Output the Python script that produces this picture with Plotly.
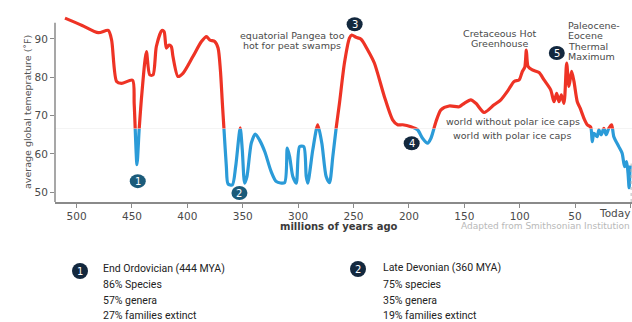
import plotly.graph_objects as go

# ---------------- data ----------------
mya = [510.5, 495, 480.4, 471.4, 468.4, 463.9, 459.4, 449.5, 448, 445.5, 443.5, 441, 437,
       434, 431, 428, 423, 421, 419, 416.5, 414.5, 413, 408.5, 404, 395, 387.3, 382.8,
       379.8, 375.3, 372.3, 370.2, 368.4, 367, 364.8, 363.3, 359.4, 356.4, 352.3, 350.4,
       348.3, 346.2, 342.3, 338.7, 334.8, 330, 324.5, 319.7, 312.3, 309.8, 307.7, 304.8,
       301.7, 298.7, 294.9, 292.7, 291.3, 286.8, 282.3, 278.6, 274.7, 271.7, 268.7, 265.7,
       262.7, 258.2, 253.7, 251.6, 247.7, 243.2, 237.2, 231.2, 222.2, 214.7, 210.2, 205.7,
       198.1, 192.2, 187.7, 183.2, 180.1, 175.6, 171.1, 163.6, 154.6, 150.1, 144.1, 139.5,
       132.1, 123.1, 117, 111.1, 105, 100.5, 97.6, 95.4, 94, 92.4, 88.6, 82.5, 78, 72, 69,
       66.6, 64.5, 62.4, 60, 57.6, 55.5, 53.1, 51, 48, 45.5, 42, 39, 35.9, 34.5, 33, 30,
       28.5, 26.4, 24, 21.9, 19.5, 17, 15, 10.5, 7.5, 5.3, 3.5, 2.2, 1.2, 0.3]
temp = [95.4, 93.5, 91.6, 92.2, 89.7, 78.9, 78.4, 79.2, 73.0, 57.2, 66.5, 76.0, 86.7,
        80.6, 80.6, 88.0, 92.2, 91.9, 87.6, 88.4, 88.0, 85.4, 80.2, 81.0, 85.4, 89.3, 90.6,
        89.7, 89.3, 87.6, 81.9, 73.2, 66.7, 56.7, 52.2, 51.9, 56.7, 66.8, 61.0,
        52.4, 54.1, 62.8, 65.2, 63.6, 60.5, 55.5, 52.8, 52.5, 61.5, 59.3, 54.1,
        52.4, 61.9, 61.9, 54.1, 52.4, 61.0, 67.6, 62.8, 54.1, 52.5, 59.3, 66.7,
        73.2, 83.7, 90.2, 91.0, 90.4, 89.9, 87.1, 83.7, 75.0, 68.9, 67.6, 67.6,
        67.1, 66.3, 64.1, 62.8, 64.1, 68.4, 71.5, 72.5, 72.3, 73.2, 74.1, 73.2,
        70.8, 72.8, 74.1, 76.3, 78.9, 79.3, 81.5, 82.6, 87.1, 82.8, 81.9, 81.2, 79.3, 76.7, 73.6,
        75.8, 73.6, 75.4, 73.2, 83.7, 77.6, 81.5, 78.9, 73.6, 72.0, 69.3, 67.6, 67.0, 63.2, 65.4, 64.5,
        66.3, 65.0, 66.7, 65.0, 66.7, 67.6, 64.5, 61.9, 60.2, 56.7, 58.0, 55.0, 51.2, 57.0]

threshold = 66.6

x_tickvals = [500, 450, 400, 350, 300, 250, 200, 150, 100, 50, 0]
x_ticktext = ["500", "450", "400", "350", "300", "250", "200", "150", "100", "50", ""]
y_tickvals = [50, 60, 70, 80, 90]

event_labels = ["1", "2", "3", "4", "5"]
event_mya = [444.8, 353.0, 249.0, 197.5, 66.5]
event_temp = [52.9, 49.8, 93.8, 62.8, 86.3]

legend_numbers = ["1", "2"]
legend_1 = ["End Ordovician (444 MYA)", "86% Species", "57% genera", "27% families extinct"]
legend_2 = ["Late Devonian (360 MYA)", "75% species", "35% genera", "19% families extinct"]

# ---------------- layout constants ----------------
W_FIG, H_FIG = 632, 322
L, R, T, B = 55, 0, 12, 120
PW = W_FIG - L - R
PH = H_FIG - T - B
Y0, Y1 = 47.47, 97.0
X0, X1 = 519.5, -1.4
f = (threshold - Y0) / (Y1 - Y0)

RED = "#EE3325"
BLUE = "#2B9BD8"
TEAL = "#1B5B7A"
NAVY = "#13283E"
TXT = "#4a4a4a"
FONT = "DejaVu Sans"


def px(x):
    return (x - L) / PW


def py(y):
    return (T + PH - y) / PH


fig = go.Figure()

line_common = dict(x=mya, y=temp, mode="lines", line_shape="spline",
                   hoverinfo="skip", showlegend=False)
fig.add_trace(go.Scatter(**line_common, line=dict(color=BLUE, width=3.2, smoothing=0.7),
                         xaxis="x", yaxis="y2"))
fig.add_trace(go.Scatter(**line_common, line=dict(color=RED, width=3.2, smoothing=0.7),
                         xaxis="x", yaxis="y3"))
fig.add_trace(go.Scatter(x=[X0], y=[Y0], mode="markers", marker=dict(opacity=0),
                         hoverinfo="skip", showlegend=False))

shapes = []
annotations = []

# threshold line
shapes.append(dict(type="line", xref="paper", x0=0, x1=1, yref="y", y0=threshold, y1=threshold,
                   line=dict(color="#c8c8c8", width=1), layer="below"))
# y axis line
shapes.append(dict(type="line", xref="paper", x0=0, x1=0, yref="y", y0=Y0, y1=94.2,
                   line=dict(color="#8a8a8a", width=1.5)))
# dotted line at today
shapes.append(dict(type="line", xref="paper", x0=0.9985, x1=0.9985, yref="y", y0=Y0, y1=57.5,
                   line=dict(color="#bbbbbb", width=1, dash="dot")))

# event circles
for i, (lab, xm, yt) in enumerate(zip(event_labels, event_mya, event_temp)):
    col = TEAL if i < 2 else NAVY
    shapes.append(dict(type="circle", xref="x", yref="y", xsizemode="pixel", ysizemode="pixel",
                       xanchor=xm, yanchor=yt, x0=-8, x1=8, y0=-7, y1=7,
                       fillcolor=col, line=dict(width=0), layer="above"))
    annotations.append(dict(x=xm, y=yt, xref="x", yref="y", text=lab, showarrow=False,
                            font=dict(family=FONT, size=10, color="white"),
                            xanchor="center", yanchor="middle"))


def txt(text, x, y, xanchor="center", size=9.5, color=TXT, family=FONT, weight=None, angle=0):
    fnt = dict(family=family, size=size, color=color)
    if weight:
        fnt["weight"] = weight
    annotations.append(dict(x=px(x), y=py(y), xref="paper", yref="paper", text=text,
                            showarrow=False, xanchor=xanchor, yanchor="middle", font=fnt,
                            textangle=angle))


txt("equatorial Pangea too", 292, 35)
txt("hot for peat swamps", 292, 45.5)
txt("Cretaceous Hot", 500, 33)
txt("Greenhouse", 500, 43.5)
for s, yy in zip(["Paleocene-", "Eocene", "Thermal", "Maximum"], [25.5, 36, 46, 56]):
    txt(s, 566, yy, xanchor="left")
txt("world without polar ice caps", 513, 121.5)
txt("world with polar ice caps", 512, 135.5)

txt("average global temeprature (˚F)", 27, 112, size=9.5, angle=-90, color="#555555")
txt("millions of years ago", 339, 226, size=10, color="#3a3a3a", weight=600)
txt("Adapted from Smithsonian Institution", 632, 226, xanchor="right", size=9, color="#b8b8b8")
txt("Today", 632, 213, xanchor="right", size=10.5, color="#4a4a4a")

# bottom legend
for num, cx, cy, lines, tx, ys in [(legend_numbers[0], 80, 271, legend_1, 101, [268, 284, 300, 315]),
                                   (legend_numbers[1], 358, 269, legend_2, 381, [267, 284, 300, 315])]:
    shapes.append(dict(type="circle", xref="paper", yref="paper", xsizemode="pixel",
                       ysizemode="pixel", xanchor=px(cx), yanchor=py(cy), x0=-8, x1=8, y0=-8, y1=8,
                       fillcolor=NAVY, line=dict(width=0)))
    annotations.append(dict(x=px(cx), y=py(cy), xref="paper", yref="paper", text=num,
                            showarrow=False, xanchor="center", yanchor="middle",
                            font=dict(family=FONT, size=10, color="white")))
    for s, yy in zip(lines, ys):
        txt(s, tx, yy, xanchor="left", size=10.5, color="#222222", family="Roboto")

fig.update_layout(
    width=W_FIG, height=H_FIG,
    margin=dict(l=L, r=R, t=T, b=B, pad=0),
    paper_bgcolor="white", plot_bgcolor="white",
    showlegend=False,
    xaxis=dict(range=[X0, X1], tickvals=x_tickvals, ticktext=x_ticktext,
               showgrid=False, zeroline=False, showline=True, linecolor="#8a8a8a", linewidth=1.5,
               ticks="outside", ticklen=4, tickcolor="#8a8a8a",
               tickfont=dict(family=FONT, size=10.5, color="#4a4a4a"), anchor="y"),
    yaxis=dict(range=[Y0, Y1], domain=[0, 1], tickvals=y_tickvals, showgrid=False,
               zeroline=False, showline=False, ticks="outside", ticklen=4, tickcolor="#8a8a8a",
               tickfont=dict(family=FONT, size=10.5, color="#4a4a4a"), anchor="x"),
    yaxis2=dict(range=[Y0, threshold], domain=[0, f], visible=False, anchor="x"),
    yaxis3=dict(range=[threshold, Y1], domain=[f, 1], visible=False, anchor="x"),
    shapes=shapes, annotations=annotations,
)

fig.write_html("out.html", config={"displayModeBar": False},
               post_script="document.body.style.margin='0';")
